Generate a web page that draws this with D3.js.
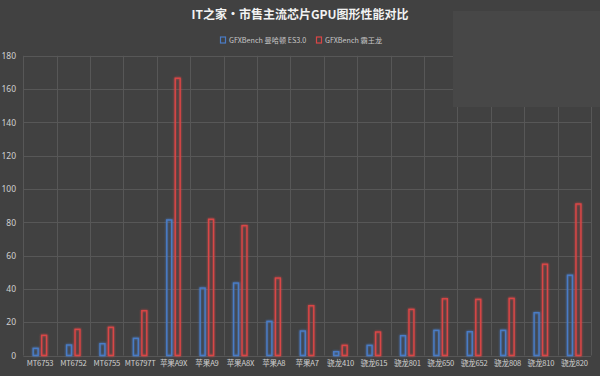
<!DOCTYPE html>
<html><head><meta charset="utf-8">
<script src="https://cdn.jsdelivr.net/npm/d3@7"></script>
<style>
html,body{margin:0;padding:0;background:#414141;}
svg{display:block;}
text{font-family:"Noto Sans CJK SC","Noto Sans",sans-serif;}
</style></head>
<body>
<svg id="c" width="600" height="376"></svg>
<script>
const categories = ["MT6753","MT6752","MT6755","MT6797T","苹果A9X","苹果A9","苹果A8X","苹果A8","苹果A7","骁龙410","骁龙615","骁龙801","骁龙650","骁龙652","骁龙808","骁龙810","骁龙820"];
const seriesNames = ["GFXBench 曼哈顿 ES3.0","GFXBench 霸王龙"];
const manhattan = [4.3,6.3,7.1,10.3,81.4,40.5,43.5,20.5,14.7,2.3,6.1,11.9,15.1,14.3,15.1,25.7,48.2];
const trex = [12.1,15.7,16.9,26.9,166.5,81.8,78,46.5,29.9,6.1,14.1,27.7,34.1,33.7,34.3,54.8,91];
const yTicks = [0,20,40,60,80,100,120,140,160,180];
const colors = ["#4a7cc6","#d94646"];
const chartTitle = "IT之家·市售主流芯片GPU图形性能对比";

(function(){
const svg = d3.select("#c");
const W = 600, H = 376;
const pL = 23.3, pR = 591, pT = 55.8, pB = 355.5;

svg.append("rect").attr("width",W).attr("height",H).attr("fill","#414141");

const defs = svg.append("defs");
const f = defs.append("filter").attr("id","glow").attr("x","-50%").attr("y","-10%").attr("width","200%").attr("height","120%");
f.append("feGaussianBlur").attr("in","SourceGraphic").attr("stdDeviation",1.3).attr("result","b");
const m = f.append("feMerge");
m.append("feMergeNode").attr("in","b");
m.append("feMergeNode").attr("in","SourceGraphic");

const x0 = d3.scaleBand().domain(categories).range([pL,pR]).padding(0);
const x1 = d3.scaleBand().domain([0,1]).range([9.2,24]).paddingInner(0.25).paddingOuter(0);
const y = d3.scaleLinear().domain([0,180]).range([pB,pT]);

// grid
const grid = svg.append("g");
grid.selectAll("line.h").data(yTicks).join("line")
  .attr("x1",pL).attr("x2",pR)
  .attr("y1",d=>Math.round(y(d))+0.5).attr("y2",d=>Math.round(y(d))+0.5)
  .attr("stroke","#575757").attr("stroke-width",1);
const vlines = categories.map(c=>x0(c)).concat([pR]);
grid.selectAll("line.v").data(vlines).join("line")
  .attr("x1",d=>Math.round(d)+0.5).attr("x2",d=>Math.round(d)+0.5)
  .attr("y1",pT).attr("y2",pB)
  .attr("stroke","#575757").attr("stroke-width",1);

// y axis labels
const yAxis = d3.axisLeft(y).tickValues(yTicks).tickSize(0).tickPadding(0);
const ya = svg.append("g").attr("transform",`translate(${16},0)`).call(yAxis);
ya.select(".domain").remove();
ya.selectAll("text").attr("fill","#d0d0d0").attr("font-size","8.5px").style("font-family","'Noto Sans',sans-serif");

// x axis labels
const xAxis = d3.axisBottom(x0).tickSize(0).tickPadding(0);
const xa = svg.append("g").attr("transform",`translate(0,${361})`).call(xAxis);
xa.select(".domain").remove();
xa.selectAll("text").attr("fill","#d0d0d0").attr("font-size","7.6px").attr("letter-spacing","-0.2px");

// bars
const data = categories.map((c,i)=>({c, v:[manhattan[i], trex[i]]}));
const g = svg.append("g").attr("filter","url(#glow)");
data.forEach(d=>{
  d.v.forEach((v,s)=>{
    g.append("rect")
      .attr("x", x0(d.c)+x1(s)+0.7)
      .attr("y", y(v))
      .attr("width", x1.bandwidth()-1.4)
      .attr("height", y(0)-y(v))
      .attr("fill","none")
      .attr("stroke", colors[s])
      .attr("stroke-width",1.4);
  });
});

// overlay patch top right
svg.append("rect").attr("x",453).attr("y",11).attr("width",147).attr("height",96).attr("fill","#474747");

// title
svg.append("text").attr("x",300).attr("y",19).attr("text-anchor","middle")
  .attr("fill","#f2f2f2").attr("font-size","12px").attr("font-weight","bold").text(chartTitle);

// legend
const legX = [220, 316];
seriesNames.forEach((n,i)=>{
  svg.append("rect").attr("x",legX[i]+0.5).attr("y",37).attr("width",5).attr("height",6)
    .attr("fill","none").attr("stroke",colors[i]).attr("stroke-width",1.2);
  svg.append("text").attr("x",legX[i]+9).attr("y",43).attr("fill","#c8c8c8")
    .attr("font-size","7.2px").text(n);
});
})();
</script>
</body></html>
